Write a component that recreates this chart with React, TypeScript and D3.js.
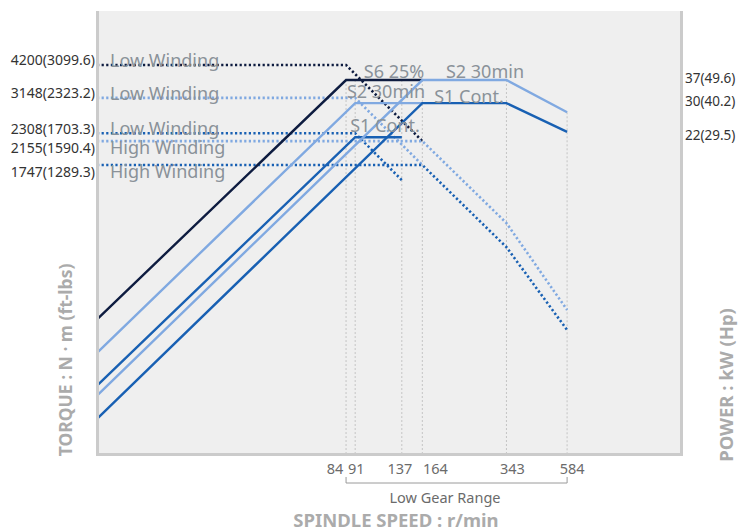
import React from "react";
import * as d3 from "d3";

// ---- axis extents (rpm / torque N·m / power kW) ----
const RPM_MIN = 9.45;
const RPM_MAX = 1600;
const TORQUE_MIN = 137.3;
const TORQUE_MAX = 6744;
const POWER_MIN = 1.224;
const POWER_MAX = 69.3;

// ---- ticks ----
const rpmTicks = [84, 91, 137, 164, 343, 584];
const rpmTickOffsets = [-11, 1, -2, 13, 6, 5];
const torqueTicks = [4200, 3148, 2308, 2155, 1747];
const torqueTickLabels = ["4200(3099.6)", "3148(2323.2)", "2308(1703.3)", "2155(1590.4)", "1747(1289.3)"];
const windingLabels = ["Low Winding", "Low Winding", "Low Winding", "High Winding", "High Winding"];
const powerTicks = [37, 30, 22];
const powerTickLabels = ["37(49.6)", "30(40.2)", "22(29.5)"];

// ---- series: power (kW) and torque (N·m) vs spindle speed (r/min) ----
const s6LowRpm = [RPM_MIN, 84, 164];
const s6LowKw = [4.2, 37, 37];
const s6LowNm = [4200, 4200, 2155];

const s2LowRpm = [RPM_MIN, 91, 164];
const s2LowKw = [3.1, 30, 30];
const s2LowNm = [3148, 3148, 1747];

const s1LowRpm = [RPM_MIN, 91, 137];
const s1LowKw = [2.3, 22, 22];
const s1LowNm = [2308, 2308, 1530];

const s2HighRpm = [RPM_MIN, 164, 343, 584];
const s2HighKw = [2.1, 37, 37, 27.6];
const s2HighNm = [2155, 2155, 1050, 490];

const s1HighRpm = [RPM_MIN, 164, 343, 584];
const s1HighKw = [1.7, 30, 30, 23.1];
const s1HighNm = [1747, 1747, 850, 411];

const NAVY = "#0e1c40";
const LIGHT = "#80a9e1";
const MED = "#1860b3";

const series = [
  { rpm: s6LowRpm, kw: s6LowKw, nm: s6LowNm, color: NAVY },
  { rpm: s2LowRpm, kw: s2LowKw, nm: s2LowNm, color: LIGHT },
  { rpm: s1LowRpm, kw: s1LowKw, nm: s1LowNm, color: MED },
  { rpm: s2HighRpm, kw: s2HighKw, nm: s2HighNm, color: LIGHT },
  { rpm: s1HighRpm, kw: s1HighKw, nm: s1HighNm, color: MED },
];

const W = 754;
const H = 531;
const PL = 97, PR = 682, PT = 11, PB = 455;

const x = d3.scaleLog().domain([RPM_MIN, RPM_MAX]).range([PL, PR]);
const yT = d3.scaleLog().domain([TORQUE_MIN, TORQUE_MAX]).range([PB, PT]);
const yP = d3.scaleLog().domain([POWER_MIN, POWER_MAX]).range([PB, PT]);

function powerAt(rpm: number[], kw: number[], r: number): number | null {
  for (let i = 0; i < rpm.length - 1; i++) {
    if (r >= rpm[i] && r <= rpm[i + 1]) {
      const t = (Math.log(r) - Math.log(rpm[i])) / (Math.log(rpm[i + 1]) - Math.log(rpm[i]));
      return Math.exp(Math.log(kw[i]) + t * (Math.log(kw[i + 1]) - Math.log(kw[i])));
    }
  }
  return null;
}

const FONT = "'Noto Sans', 'Open Sans', sans-serif";
const LABEL_GRAY = "#8a9299";
const TITLE_GRAY = "#ababab";

export default function App() {
  const line = d3.line<[number, number]>().x((d) => d[0]).y((d) => d[1]);

  return (
    <svg width={W} height={H} style={{ position: "absolute", left: 0, top: 0, display: "block" }} fontFamily={FONT}>
      <rect x={0} y={0} width={W} height={H} fill="#ffffff" />
      <rect x={PL} y={PT} width={PR - PL} height={PB - PT} fill="#efefef" />

      {/* vertical dotted gridlines */}
      {rpmTicks.map((r) => {
        const tops = series
          .map((s) => powerAt(s.rpm, s.kw, r))
          .filter((v) => v !== null) as number[];
        const top = tops.length ? yP(d3.max(tops) as number) : PT;
        return (
          <line key={"g" + r} x1={x(r)} x2={x(r)} y1={top} y2={PB} stroke="#c4c4c4" strokeWidth={1} strokeDasharray="2 2" />
        );
      })}

      {/* torque (dotted) */}
      {series.map((s, i) => (
        <path
          key={"t" + i}
          d={line(s.rpm.map((r, j) => [x(r), yT(s.nm[j])] as [number, number])) || ""}
          fill="none"
          stroke={s.color}
          strokeWidth={2.6}
          strokeDasharray="2.2 2.4"
        />
      ))}

      {/* power (solid) */}
      {series.map((s, i) => (
        <path
          key={"p" + i}
          d={line(s.rpm.map((r, j) => [x(r), yP(s.kw[j])] as [number, number])) || ""}
          fill="none"
          stroke={s.color}
          strokeWidth={2.4}
        />
      ))}

      {/* curve labels */}
      <g fill={LABEL_GRAY} fontSize={18} textAnchor="middle">
        <text x={394} y={yP(37) - 2}>S6 25%</text>
        <text x={386} y={yP(30) - 5}>S2 30min</text>
        <text x={385} y={yP(22) - 5}>S1 Cont.</text>
        <text x={485} y={yP(37) - 2}>S2 30min</text>
        <text x={469} y={yP(30)}>S1 Cont.</text>
      </g>

      {/* winding labels */}
      <g fill={LABEL_GRAY} fontSize={18}>
        {torqueTicks.map((t, i) => (
          <text key={"w" + i} x={110} y={windingLabels[i].startsWith("Low") ? yT(t) + 2 : yT(t) + 13}>
            {windingLabels[i]}
          </text>
        ))}
      </g>

      {/* left torque tick labels */}
      <g fill="#333333" fontSize={14} textAnchor="end">
        {torqueTicks.map((t, i) => (
          <text key={"tl" + i} x={95} y={yT(t) + (windingLabels[i].startsWith("Low") ? -5 : 6)} dominantBaseline="central">
            {torqueTickLabels[i]}
          </text>
        ))}
      </g>

      {/* right power tick labels */}
      <g fill="#333333" fontSize={13.5} textAnchor="start">
        {powerTicks.map((p, i) => (
          <text key={"pl" + i} x={685} y={yP(p) - 2} dominantBaseline="central">
            {powerTickLabels[i]}
          </text>
        ))}
      </g>

      {/* frame */}
      <rect x={96} y={PT} width={3} height={PB - PT + 1} fill="#cbcbcb" />
      <rect x={680} y={PT} width={3} height={PB - PT + 1} fill="#cbcbcb" />
      <rect x={96} y={453} width={587} height={3} fill="#cbcbcb" />

      {/* x tick labels */}
      <g fill="#6b6b6b" fontSize={14.5} textAnchor="middle">
        {rpmTicks.map((r, i) => (
          <text key={"xl" + r} x={x(r) + rpmTickOffsets[i]} y={474}>
            {r}
          </text>
        ))}
      </g>

      {/* Low gear range bracket */}
      <path
        d={`M${x(84)},477V483H${x(584)}V477`}
        fill="none"
        stroke="#9a9a9a"
        strokeWidth={1}
      />
      <text x={445} y={503} fontSize={14.5} fill="#6b6b6b" textAnchor="middle">Low Gear Range</text>

      {/* axis titles */}
      <text x={396} y={527} fontSize={18.5} fontWeight="bold" fill={TITLE_GRAY} textAnchor="middle">
        SPINDLE SPEED : r/min
      </text>
      <text
        transform="translate(72,360) rotate(-90)"
        fontSize={17.5}
        fontWeight="bold"
        fill={TITLE_GRAY}
        textAnchor="middle"
      >
        TORQUE : N · m (ft-lbs)
      </text>
      <text
        transform="translate(733,385) rotate(-90)"
        fontSize={18.5}
        fontWeight="bold"
        fill={TITLE_GRAY}
        textAnchor="middle"
      >
        POWER : kW (Hp)
      </text>
    </svg>
  );
}
